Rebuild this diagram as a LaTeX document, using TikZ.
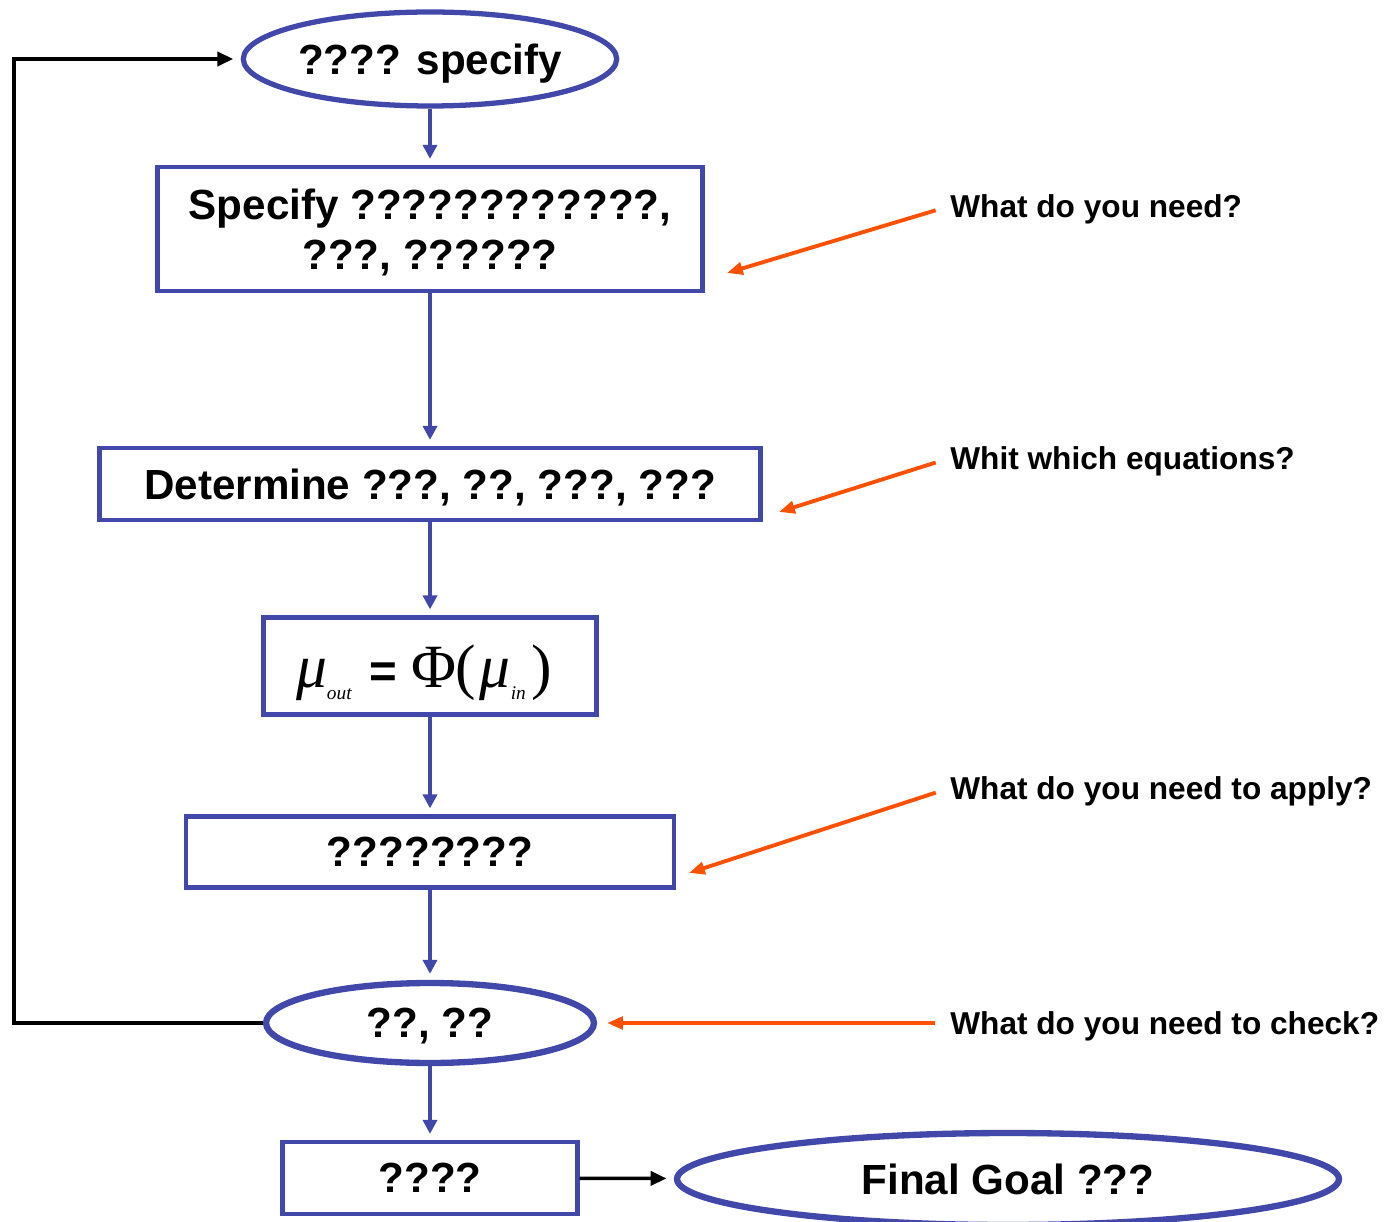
\documentclass[tikz,border=0pt]{standalone}
\usepackage{fontspec}
\setmainfont{Liberation Sans}
\newfontfamily\eqfont{Liberation Serif}
\usetikzlibrary{arrows.meta,shapes.geometric}
\definecolor{flowblue}{RGB}{66,72,170}
\definecolor{noteorange}{RGB}{255,80,0}
\newcommand{\eqsub}[1]{\raisebox{-7pt}{\fontsize{11}{11}\selectfont #1}}

\begin{document}
\begin{tikzpicture}[x=0.02cm, y=-0.02cm,
  every node/.style={font=\bfseries\fontsize{24}{28.5}\selectfont},
  box/.style={draw=flowblue, line width=2.4pt, rectangle, inner sep=0pt, align=center, text depth=0pt},
  oval/.style={draw=flowblue, line width=3pt, ellipse, inner sep=0pt, text depth=0pt},
  note/.style={font=\bfseries\fontsize{18}{22}\selectfont, anchor=west, inner sep=0pt, text depth=0pt},
  flow/.style={draw=flowblue, line width=2.1pt, -{Triangle[length=8pt,width=8pt]}, shorten >=0.12cm},
  back/.style={draw=black, line width=2pt, -{Triangle[length=9pt,width=8pt]}, shorten >=0.15cm},
  hint/.style={draw=noteorange, line width=2.2pt, -{Triangle[length=9pt,width=7pt]}, shorten <=0.3cm}]
  \useasboundingbox (0,0) rectangle (1389,1222);
  % flow chart
  \node[oval, minimum width=7.26cm, minimum height=1.88cm] (start) at (430,59) {???? specify};
  \node[box, minimum width=10.9cm, minimum height=2.48cm] (spec) at (430,229) {Specify ????????????,\\???, ??????};
  \node[box, minimum width=13.22cm, minimum height=1.44cm] (det) at (430,484) {Determine ???, ??, ???, ???};
  \node[box, minimum width=6.66cm, minimum height=1.94cm] (eq) at (430,666)
    {\eqfont\mdseries\itshape\fontsize{35}{40}\selectfont
     μ\eqsub{out}\hspace{10pt}{\normalfont\bfseries\fontsize{27}{30}\selectfont =}\hspace{8pt}{\upshape Φ(}\hspace{2pt}μ\eqsub{in}\hspace{3pt}{\upshape )}\hspace{7pt}};
  \node[box, minimum width=9.76cm, minimum height=1.42cm] (apply) at (430,852) {????????};
  \node[oval, line width=3.6pt, minimum width=6.56cm, minimum height=1.6cm] (check) at (430,1023) {??, ??};
  \node[box, minimum width=5.9cm, minimum height=1.44cm] (res) at (430,1178) {????};
  \node[oval, line width=3.6pt, minimum width=13.24cm, minimum height=1.84cm] (goal) at (1008,1179) {Final Goal ???};

  \draw[flow] (start) -- (spec);
  \draw[flow] (spec) -- (det);
  \draw[flow] (det) -- (eq);
  \draw[flow] (eq) -- (apply);
  \draw[flow] (apply) -- (check);
  \draw[flow] (check) -- (res);
  \draw[back] (res) -- (goal);
  \coordinate (loop) at (14,1023);
  \draw[back] (check.west) -- (loop) |- (start.west);

  % questions
  \node[note] (q1) at (950,206) {What do you need?};
  \node[note] (q2) at (950,458) {Whit which equations?};
  \node[note] (q3) at (950,788) {What do you need to apply?};
  \node[note] (q4) at (950,1023) {What do you need to check?};
  \coordinate (t1) at (727,273);
  \coordinate (t2) at (779,512);
  \coordinate (t3) at (689,873);
  \coordinate (t4) at (607,1023);
  \draw[hint] (q1.west) -- (t1);
  \draw[hint] (q2.west) -- (t2);
  \draw[hint] (q3.west) -- (t3);
  \draw[hint] (q4.west) -- (t4);
\end{tikzpicture}
\end{document}
